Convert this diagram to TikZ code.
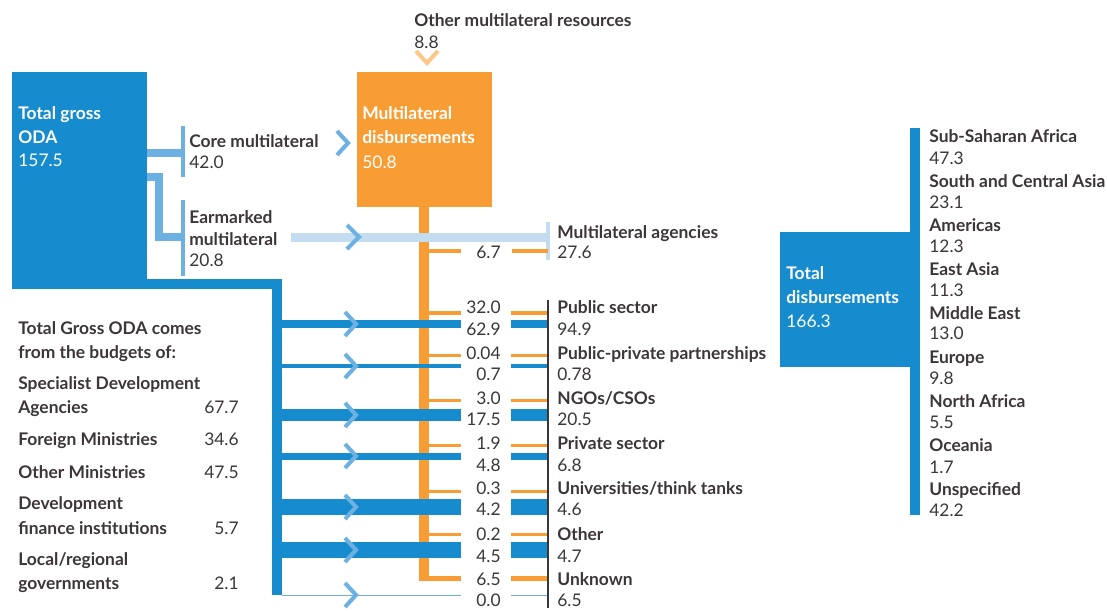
\documentclass[tikz,border=0pt]{standalone}
\usepackage{fontspec}
\setmainfont{Lato}
\definecolor{odablue}{HTML}{168BCE}
\definecolor{midblue}{HTML}{6DB0E2}
\definecolor{paleblue}{HTML}{C3DCF0}
\definecolor{mlorange}{HTML}{F89D33}
\definecolor{paleorange}{HTML}{FCC88A}
\definecolor{txtgray}{HTML}{3C3539}
\begin{document}
\begin{tikzpicture}[x=0.02cm,y=-0.02cm,
  lbl/.style={inner sep=0pt,anchor=base west,text=txtgray,font=\fontsize{9.9}{12}\selectfont\bfseries},
  val/.style={inner sep=0pt,anchor=base west,text=txtgray,font=\fontsize{9.9}{12}\selectfont},
  rval/.style={val,anchor=base east},
  wlbl/.style={lbl,text=white},
  wval/.style={val,text=white},
  chev/.style={line width=2.3pt,line join=miter}]
\useasboundingbox (0,0) rectangle (1107,610);
%---------------------------------------------------
\fill[odablue] (12,72) rectangle (147,289);
\fill[odablue] (147,279) rectangle (282,289);
\fill[odablue] (272,279) rectangle (282,595);
\node[wlbl] (oda) at (18,119) {Total gross};
\node[wlbl] (odb) at (18,143) {ODA};
\node[wval] (odc) at (18,166) {157.5};
%---------------------------------------------------
\fill[midblue] (147,149) rectangle (183,157);
\fill[midblue] (181,126) rectangle (185,177);
\node[lbl] (core) at (189,147) {Core multilateral};
\node[val] (corev) at (189,168) {42.0};
\draw[chev,midblue] (337,131) -- (348,143) -- (337,155);
%---------------------------------------------------
\draw[midblue,line width=4.5pt] (147,177) -- (159,177) -- (159,237) -- (183,237);
\fill[midblue] (181,200) rectangle (185,276);
\node[lbl] (ear) at (189,223) {Earmarked};
\node[lbl] (earb) at (189,245) {multilateral};
\node[val] (earv) at (189,266) {20.8};
%---------------------------------------------------
\node[lbl] (other) at (414,26) {Other multilateral resources};
\node[val] (otherv) at (414,48) {8.8};
\draw[chev,paleorange] (416,51) -- (427,63) -- (438,51);
\fill[mlorange] (357,72) rectangle (492,207);
\fill[mlorange] (419,207) rectangle (429,580);
\fill[mlorange] (419,576) rectangle (461,581);
\node[wlbl] (mla) at (362,119) {Multilateral};
\node[wlbl] (mlb) at (362,143) {disbursements};
\node[wval] (mlc) at (362,168) {50.8};
%---------------------------------------------------
\fill[paleblue] (291,233) rectangle (548,242);
\draw[chev,midblue] (347,225) -- (359,237) -- (347,249);
\fill[paleblue] (546,222) rectangle (550,260);
\fill[mlorange] (429,249) rectangle (461,253);
\fill[mlorange] (512,249) rectangle (548,253);
\node[rval] (agv) at (501,258) {6.7};
\node[lbl] (ag) at (557,238) {Multilateral agencies};
\node[val] (agt) at (557,258) {27.6};
%---------------------------------------------------
\fill[mlorange] (429,311) rectangle (461,315);
\fill[mlorange] (511,311) rectangle (548,315);
\fill[mlorange] (429,354) rectangle (461,357);
\fill[mlorange] (511,354) rectangle (548,357);
\fill[mlorange] (429,399) rectangle (461,402);
\fill[mlorange] (511,399) rectangle (548,402);
\fill[mlorange] (429,444) rectangle (461,447);
\fill[mlorange] (511,444) rectangle (548,447);
\fill[mlorange] (429,490) rectangle (461,493);
\fill[mlorange] (511,490) rectangle (548,493);
\fill[mlorange] (429,533) rectangle (461,536);
\fill[mlorange] (511,533) rectangle (548,536);
\fill[mlorange] (511,576) rectangle (548,581);
%---------------------------------------------------
\fill[odablue] (282,320) rectangle (461,328);
\fill[odablue] (511,320) rectangle (548,328);
\fill[odablue] (282,364) rectangle (461,368);
\fill[odablue] (511,364) rectangle (548,368);
\fill[odablue] (282,409) rectangle (461,421);
\fill[odablue] (511,409) rectangle (548,421);
\fill[odablue] (282,453) rectangle (461,460);
\fill[odablue] (511,453) rectangle (548,460);
\fill[odablue] (282,499) rectangle (461,515);
\fill[odablue] (511,499) rectangle (548,515);
\fill[odablue] (282,542) rectangle (461,558);
\fill[odablue] (511,542) rectangle (548,558);
\fill[midblue] (282,594.5) rectangle (461,596);
\fill[midblue] (511,594.5) rectangle (548,596);
\draw[chev,midblue] (345,312) -- (356,324) -- (345,336);
\draw[chev,midblue] (345,354) -- (356,366) -- (345,378);
\draw[chev,midblue] (345,403) -- (356,415) -- (345,427);
\draw[chev,midblue] (345,444) -- (356,456) -- (345,468);
\draw[chev,midblue] (345,495) -- (356,507) -- (345,519);
\draw[chev,midblue] (345,538) -- (356,550) -- (345,562);
\draw[chev,midblue] (345,583) -- (356,595) -- (345,607);
%---------------------------------------------------
\fill[txtgray] (547,300) rectangle (549,608);
\node[rval] (pubo) at (501,313) {32.0};
\node[rval] (pubb) at (501,335) {62.9};
\node[lbl] (pub) at (557,313) {Public sector};
\node[val] (pubt) at (557,335) {94.9};
\node[rval] (ppo) at (501,359) {0.04};
\node[rval] (ppb) at (501,380) {0.7};
\node[lbl] (pp) at (557,359) {Public-private partnerships};
\node[val] (ppt) at (557,380) {0.78};
\node[rval] (ngoo) at (501,404) {3.0};
\node[rval] (ngob) at (501,425) {17.5};
\node[lbl] (ngo) at (557,404) {NGOs/CSOs};
\node[val] (ngot) at (557,425) {20.5};
\node[rval] (prvo) at (501,449) {1.9};
\node[rval] (prvb) at (501,471) {4.8};
\node[lbl] (prv) at (557,449) {Private sector};
\node[val] (prvt) at (557,471) {6.8};
\node[rval] (unio) at (501,494) {0.3};
\node[rval] (unib) at (501,515) {4.2};
\node[lbl] (uni) at (557,494) {Universities/think tanks};
\node[val] (unit) at (557,515) {4.6};
\node[rval] (otho) at (501,540) {0.2};
\node[rval] (othb) at (501,562) {4.5};
\node[lbl] (oth) at (557,540) {Other};
\node[val] (otht) at (557,562) {4.7};
\node[rval] (unko) at (501,585) {6.5};
\node[rval] (unkb) at (501,606) {0.0};
\node[lbl] (unk) at (557,585) {Unknown};
\node[val] (unkt) at (557,606) {6.5};
%---------------------------------------------------
\node[lbl] (srca) at (18,334) {Total Gross ODA comes};
\node[lbl] (srcb) at (18,358) {from the budgets of:};
\node[lbl] (sda) at (18,389) {Specialist Development};
\node[lbl] (sdb) at (18,413) {Agencies};
\node[rval] (sdv) at (239,413) {67.7};
\node[lbl] (fm) at (18,445) {Foreign Ministries};
\node[rval] (fmv) at (239,445) {34.6};
\node[lbl] (om) at (18,478) {Other Ministries};
\node[rval] (omv) at (239,478) {47.5};
\node[lbl] (dfa) at (18,509) {Development};
\node[lbl] (dfb) at (18,534) {finance institutions};
\node[rval] (dfv) at (239,534) {5.7};
\node[lbl] (lga) at (18,565) {Local/regional};
\node[lbl] (lgb) at (18,589) {governments};
\node[rval] (lgv) at (239,589) {2.1};
%---------------------------------------------------
\fill[odablue] (780,232) rectangle (910,367);
\fill[odablue] (910,128) rectangle (920,515);
\node[wlbl] (tda) at (786,279) {Total};
\node[wlbl] (tdb) at (786,303) {disbursements};
\node[wval] (tdc) at (786,327) {166.3};
\node[lbl] (ssa) at (929,142) {Sub-Saharan Africa};
\node[val] (ssav) at (929,164) {47.3};
\node[lbl] (sca) at (929,187) {South and Central Asia};
\node[val] (scav) at (929,208) {23.1};
\node[lbl] (am) at (929,231) {Americas};
\node[val] (amv) at (929,252) {12.3};
\node[lbl] (ea) at (929,275) {East Asia};
\node[val] (eav) at (929,296) {11.3};
\node[lbl] (me) at (929,319) {Middle East};
\node[val] (mev) at (929,339) {13.0};
\node[lbl] (eu) at (929,363) {Europe};
\node[val] (euv) at (929,384) {9.8};
\node[lbl] (na) at (929,407) {North Africa};
\node[val] (nav) at (929,428) {5.5};
\node[lbl] (oc) at (929,451) {Oceania};
\node[val] (ocv) at (929,473) {1.7};
\node[lbl] (un) at (929,495) {Unspecified};
\node[val] (unv) at (929,516) {42.2};
\end{tikzpicture}
\end{document}
